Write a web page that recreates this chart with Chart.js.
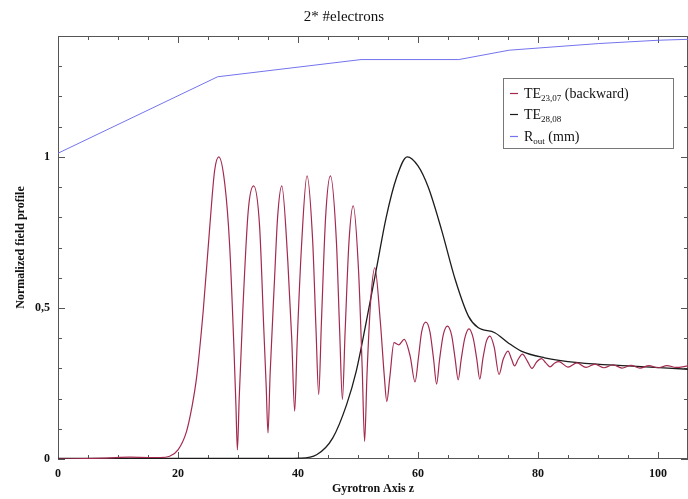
<!DOCTYPE html>
<html>
<head>
<meta charset="utf-8">
<script src="https://cdn.jsdelivr.net/npm/chart.js@4"></script>
<style>
  body { margin: 0; background: #fff; }
  canvas { display: block; }
</style>
</head>
<body>
<canvas id="profileChart" width="688" height="499"></canvas>
<script>
// Field profiles along the gyrotron axis.

const titleText = '2* #electrons';
const xTitle = 'Gyrotron Axis z';
const yTitle = 'Normalized field profile';
const seriesLabels = ['TE_{23,07} (backward)', 'TE_{28,08}', 'R_{out} (mm)'];

// TE23,07 backward wave
const backZ = [0, 8, 12, 15, 17, 18.6, 20, 21.4, 22.3, 23.1, 24.2, 25.3, 26.1, 26.8,
  27.8, 28.6, 29.3, 29.65, 29.9, 30.2, 30.8, 31.7, 32.6,
  33.6, 34.3, 34.7, 35.0, 35.35, 36.1, 36.6, 37.3,
  38.3, 38.95, 39.45, 39.85, 40.6, 41.5,
  42.45, 43.0, 43.45, 43.9, 44.6, 45.4,
  46.4, 46.95, 47.4, 47.85, 48.5, 49.2,
  50.1, 50.7, 51.1, 51.5, 52.1, 52.8,
  53.7, 54.4, 54.8, 55.3, 56.0, 56.8, 57.7, 58.7, 59.5,
  60.1, 60.6, 61.3, 62.0, 62.6, 63.1, 63.6, 64.2, 64.9, 65.6, 66.2, 66.7,
  67.2, 67.8, 68.5, 69.2, 69.8, 70.3, 70.8, 71.4, 72.0, 72.7, 73.5,
  74.2, 75.0, 75.6, 76.1, 76.7, 77.4, 78.2, 79.0, 79.8, 80.6, 81.3, 82.0, 82.8, 83.5,
  85, 86.5, 88, 89.5, 91, 92.5, 94, 95.5, 97, 98.5, 100, 101.5, 103, 105];
const backVal = [0, 0.003, 0.006, 0.005, 0.005, 0.009, 0.03, 0.09, 0.17, 0.27, 0.49, 0.77, 0.954, 1.0,
  0.91, 0.71, 0.38, 0.18, 0.03, 0.2, 0.49, 0.82, 0.904,
  0.77, 0.43, 0.24, 0.086, 0.28, 0.60, 0.8, 0.904,
  0.655, 0.4, 0.158, 0.38, 0.71, 0.937,
  0.72, 0.43, 0.213, 0.45, 0.8, 0.937,
  0.72, 0.42, 0.197, 0.42, 0.72, 0.838,
  0.62, 0.3, 0.058, 0.28, 0.52, 0.633,
  0.46, 0.27, 0.19, 0.27, 0.385, 0.378, 0.396, 0.34, 0.255,
  0.34, 0.42, 0.453, 0.42, 0.33, 0.248, 0.33, 0.41, 0.44, 0.41, 0.33, 0.262,
  0.33, 0.40, 0.431, 0.40, 0.33, 0.264, 0.33, 0.39, 0.407, 0.37, 0.28,
  0.33, 0.357, 0.33, 0.308, 0.33, 0.347, 0.325, 0.30, 0.322, 0.332, 0.318, 0.305, 0.318, 0.322,
  0.304, 0.318, 0.303, 0.314, 0.302, 0.312, 0.301, 0.31, 0.301, 0.309, 0.302, 0.309, 0.303, 0.308];

// TE28,08 forward mode
const fwdZ = [0, 20, 35, 40.3, 43.1, 45.8, 48.1, 49.7, 51.4, 53.1, 54.7, 56.4, 58.2, 60, 61.7,
  63.9, 66.2, 68.4, 70, 72.8, 75, 77.2, 81.1, 86.7, 95, 105];
const fwdVal = [0.002, 0.002, 0.002, 0.003, 0.014, 0.07, 0.18, 0.29, 0.456, 0.633, 0.80, 0.93, 1.0, 0.97, 0.90,
  0.76, 0.594, 0.473, 0.435, 0.418, 0.385, 0.357, 0.335, 0.319, 0.308, 0.297];

// cavity radius
const radZ = [0, 26.6, 50.5, 66.8, 75.2, 90.1, 100.1, 105];
const radVal = [1.012, 1.265, 1.322, 1.322, 1.353, 1.375, 1.386, 1.389];

const serif = "'Liberation Serif', 'Times New Roman', serif";

function pairs(xs, ys) {
  return xs.map((x, i) => ({ x: x, y: ys[i] }));
}

// box round the plot with short inward ticks on all four sides
const framePlugin = {
  id: 'frame',
  beforeDatasetsDraw(chart) {
    const { ctx, chartArea: a, scales: { x, y } } = chart;
    ctx.save();
    ctx.strokeStyle = '#555';
    ctx.lineWidth = 1;
    ctx.strokeRect(a.left + 0.5, a.top + 0.5, a.right - a.left - 1, a.bottom - a.top - 1);
    ctx.beginPath();
    x.ticks.forEach(t => {
      if (Math.abs(t.value / 5 - Math.round(t.value / 5)) > 1e-6) return;
      const px = Math.round(x.getPixelForValue(t.value)) + 0.5;
      const len = Math.round(t.value) % 20 === 0 ? 7 : 4;
      ctx.moveTo(px, a.bottom); ctx.lineTo(px, a.bottom - len);
      ctx.moveTo(px, a.top); ctx.lineTo(px, a.top + len);
    });
    y.ticks.forEach(t => {
      const py = Math.round(y.getPixelForValue(t.value)) + 0.5;
      const len = Math.round(t.value * 10) % 5 === 0 ? 7 : 4;
      ctx.moveTo(a.left, py); ctx.lineTo(a.left + len, py);
      ctx.moveTo(a.right, py); ctx.lineTo(a.right - len, py);
    });
    ctx.stroke();
    ctx.restore();
  }
};

// legend with subscripts, written as NAME_{sub}
const legendPlugin = {
  id: 'subLegend',
  afterDraw(chart) {
    const ctx = chart.ctx;
    const box = { left: 503, top: 78, right: 673, bottom: 148 };
    ctx.save();
    ctx.fillStyle = '#fff';
    ctx.fillRect(box.left, box.top, box.right - box.left, box.bottom - box.top);
    ctx.strokeStyle = '#777';
    ctx.lineWidth = 1;
    ctx.strokeRect(box.left + 0.5, box.top + 0.5, box.right - box.left, box.bottom - box.top);
    const baselines = [98, 119, 141];
    chart.data.datasets.forEach((ds, i) => {
      const base = baselines[i];
      ctx.strokeStyle = ds.borderColor;
      ctx.lineWidth = 1.2;
      ctx.beginPath();
      ctx.moveTo(510, base - 4.5);
      ctx.lineTo(518, base - 4.5);
      ctx.stroke();
      let xPos = 524;
      ctx.fillStyle = '#111';
      ctx.textBaseline = 'alphabetic';
      ds.label.split(/(_\{[^}]*\})/).forEach(part => {
        if (!part) return;
        if (part.startsWith('_{')) {
          ctx.font = '9px ' + serif;
          const s = part.slice(2, -1);
          ctx.fillText(s, xPos, base + 3);
          xPos += ctx.measureText(s).width;
        } else {
          ctx.font = '14px ' + serif;
          ctx.fillText(part, xPos, base);
          xPos += ctx.measureText(part).width;
        }
      });
    });
    ctx.restore();
  }
};

const ctx = document.getElementById('profileChart').getContext('2d');
new Chart(ctx, {
  type: 'line',
  data: {
    datasets: [
      {
        label: seriesLabels[0],
        data: pairs(backZ, backVal),
        borderColor: '#a32a4e',
        borderWidth: 1.2,
        cubicInterpolationMode: 'monotone',
        pointRadius: 0
      },
      {
        label: seriesLabels[1],
        data: pairs(fwdZ, fwdVal),
        borderColor: '#1c1c1c',
        borderWidth: 1.3,
        cubicInterpolationMode: 'monotone',
        pointRadius: 0
      },
      {
        label: seriesLabels[2],
        data: pairs(radZ, radVal),
        borderColor: '#7373ee',
        borderWidth: 1,
        tension: 0,
        pointRadius: 0
      }
    ]
  },
  options: {
    responsive: false,
    animation: false,
    devicePixelRatio: 1,
    layout: { padding: 0 },
    plugins: {
      legend: { display: false },
      tooltip: { enabled: false },
      title: {
        display: true,
        text: titleText,
        color: '#111',
        font: { family: serif, size: 15, weight: 'normal' },
        padding: { top: 8, bottom: 10 }
      }
    },
    scales: {
      x: {
        type: 'linear',
        min: 0,
        max: 105,
        grid: { display: false, drawTicks: false },
        border: { display: false },
        afterFit(s) { s.height = 40; s.paddingRight = 0; s.paddingLeft = 0; },
        ticks: {
          stepSize: 5,
          autoSkip: false,
          maxRotation: 0,
          padding: 8,
          color: '#111',
          font: { family: serif, size: 12, weight: 'bold' },
          callback: v => (Math.round(v) === v && v % 20 === 0 ? String(v) : '')
        },
        title: {
          display: true,
          text: xTitle,
          color: '#111',
          font: { family: serif, size: 12, weight: 'bold' },
          padding: { top: 0, bottom: 3 }
        }
      },
      y: {
        min: 0,
        max: 1.4,
        grid: { display: false, drawTicks: false },
        border: { display: false },
        afterFit(s) { s.width = 58; },
        ticks: {
          stepSize: 0.1,
          autoSkip: false,
          padding: 8,
          color: '#111',
          font: { family: serif, size: 12, weight: 'bold' },
          callback: v => {
            const k = Math.round(v * 10);
            return k === 0 ? '0' : k === 5 ? '0,5' : k === 10 ? '1' : '';
          }
        },
        title: {
          display: true,
          text: yTitle,
          color: '#111',
          font: { family: serif, size: 12, weight: 'bold' },
          padding: { top: 14, bottom: 0 }
        }
      }
    }
  },
  plugins: [framePlugin, legendPlugin]
});
</script>
</body>
</html>
